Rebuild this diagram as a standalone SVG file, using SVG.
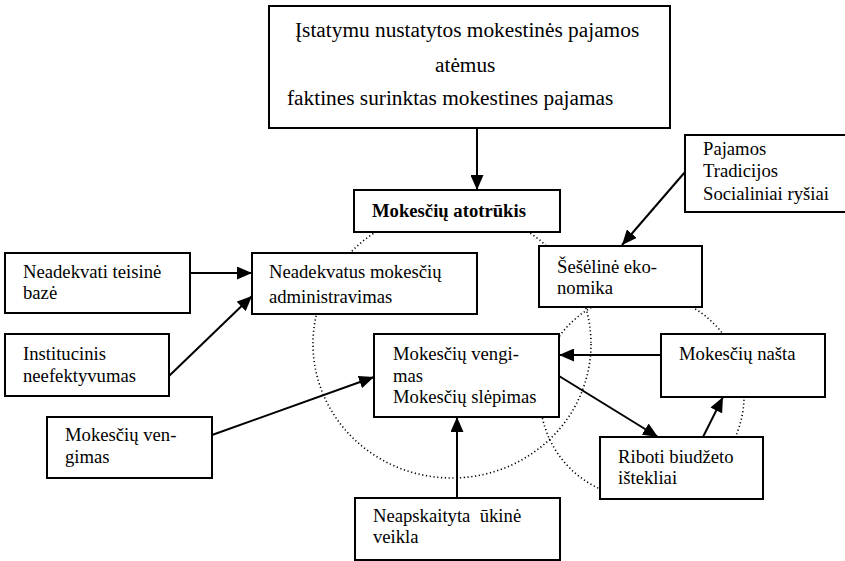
<svg xmlns="http://www.w3.org/2000/svg" width="845" height="561" viewBox="0 0 845 561" font-family="'Liberation Serif', 'Times New Roman', serif">
<style>
text{font-family:'Liberation Serif','Times New Roman',serif;font-size:18.67px;fill:#000}
.box{fill:#fff;stroke:#000;stroke-width:2}
.big{font-size:21.33px}
.b{font-weight:bold}
.con{stroke:#000;stroke-width:2;fill:none}
.dot{fill:none;stroke:#000;stroke-width:1.6;stroke-dasharray:1.2 2.6}
</style>
<defs>
<marker id="ah" markerUnits="userSpaceOnUse" markerWidth="16" markerHeight="13" refX="15" refY="6.5" orient="auto">
<path d="M0,0 L15,6.5 L0,13 Z" fill="#000"/>
</marker>
</defs>
<rect width="845" height="561" fill="#fff"/>
<g id="cycles">
<ellipse class="dot" cx="452" cy="344" rx="139" ry="134"/>
<circle class="dot" cx="642" cy="396" r="102"/>
</g>
<g id="connectors">
<line class="con" x1="477" y1="128" x2="477" y2="190" marker-end="url(#ah)"/>
<line class="con" x1="685" y1="172" x2="622" y2="245" marker-end="url(#ah)"/>
<line class="con" x1="190" y1="273" x2="252" y2="273" marker-end="url(#ah)"/>
<line class="con" x1="169" y1="376" x2="252" y2="296" marker-end="url(#ah)"/>
<line class="con" x1="212" y1="435" x2="374" y2="377" marker-end="url(#ah)"/>
<line class="con" x1="457" y1="498" x2="457" y2="417" marker-end="url(#ah)"/>
<line class="con" x1="661" y1="355" x2="559" y2="355" marker-end="url(#ah)"/>
<line class="con" x1="559" y1="376" x2="658" y2="437" marker-end="url(#ah)"/>
<line class="con" x1="703" y1="437" x2="723" y2="397" marker-end="url(#ah)"/>
</g>
<g id="n_top">
<rect class="box" x="269" y="6" width="401" height="122"/>
<text class="big" x="295" y="37">Įstatymu nustatytos mokestinės pajamos</text>
<text class="big" x="435" y="72">atėmus</text>
<text class="big" x="287" y="105">faktines surinktas mokestines pajamas</text>
</g>
<g id="n_pajamos">
<rect class="box" x="685" y="135" width="165" height="77"/>
<text x="703" y="155">Pajamos</text>
<text x="703" y="177">Tradicijos</text>
<text x="703" y="200">Socialiniai ryšiai</text>
</g>
<g id="n_atotrukis">
<rect class="box" x="354" y="190" width="206" height="42"/>
<text class="b" x="372" y="217">Mokesčių atotrūkis</text>
</g>
<g id="n_teisine">
<rect class="box" x="5" y="253" width="185" height="60"/>
<text x="23" y="278">Neadekvati teisinė</text>
<text x="23" y="299">bazė</text>
</g>
<g id="n_administravimas">
<rect class="box" x="252" y="253" width="225" height="61"/>
<text x="269" y="278">Neadekvatus mokesčių</text>
<text x="269" y="303">administravimas</text>
</g>
<g id="n_seseline">
<rect class="box" x="539" y="246" width="163" height="61"/>
<text x="557" y="273">Šešėlinė eko-</text>
<text x="557" y="294">nomika</text>
</g>
<g id="n_institucinis">
<rect class="box" x="5" y="334" width="164" height="62"/>
<text x="23" y="360">Institucinis</text>
<text x="23" y="382">neefektyvumas</text>
</g>
<g id="n_vengimas_center">
<rect class="box" x="374" y="334" width="185" height="83"/>
<text x="393" y="360">Mokesčių vengi-</text>
<text x="393" y="382">mas</text>
<text x="393" y="403">Mokesčių slėpimas</text>
</g>
<g id="n_nasta">
<rect class="box" x="661" y="334" width="164" height="63"/>
<text x="679" y="360">Mokesčių našta</text>
</g>
<g id="n_vengimas_left">
<rect class="box" x="47" y="417" width="165" height="61"/>
<text x="65" y="441">Mokesčių ven-</text>
<text x="65" y="463">gimas</text>
</g>
<g id="n_riboti">
<rect class="box" x="600" y="437" width="163" height="62"/>
<text x="618" y="463">Riboti biudžeto</text>
<text x="618" y="484">ištekliai</text>
</g>
<g id="n_neapskaityta">
<rect class="box" x="355" y="498" width="205" height="62"/>
<text x="373" y="522" xml:space="preserve">Neapskaityta  ūkinė</text>
<text x="373" y="543">veikla</text>
</g>
</svg>
